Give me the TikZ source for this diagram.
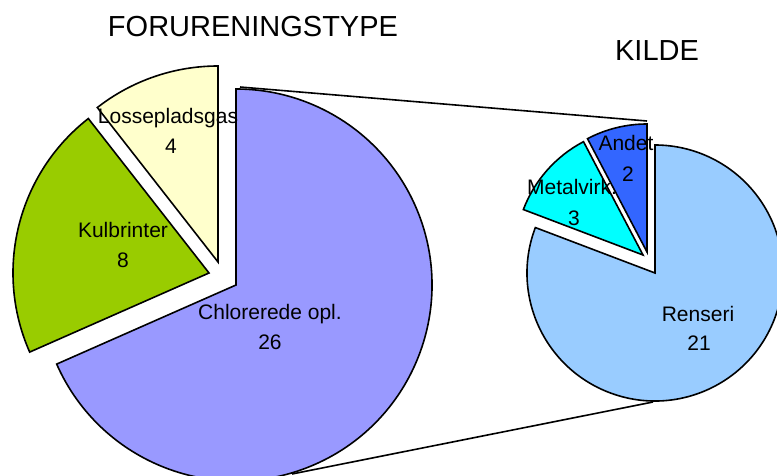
\documentclass[tikz,border=0pt]{standalone}
\usepackage{fontspec}
\setmainfont{Liberation Sans}
\definecolor{chl}{HTML}{9999FF}
\definecolor{kul}{HTML}{99CC00}
\definecolor{los}{HTML}{FFFFCC}
\definecolor{ren}{HTML}{99CCFF}
\definecolor{met}{HTML}{00FFFF}
\definecolor{and}{HTML}{3366FF}
\begin{document}
\begin{tikzpicture}[x=1pt,y=1pt,
  wedge/.style={draw=black,line width=1.6pt,line join=miter},
  lbl/.style={anchor=base,inner sep=0pt,font=\fontsize{21}{24}\selectfont},
  ttl/.style={anchor=base,inner sep=0pt,font=\fontsize{29}{32}\selectfont},
  conn/.style={draw=black,line width=1.6pt}]
\useasboundingbox (0,0) rectangle (777,475);
\clip (0,0) rectangle (777,475);
% left pie
\coordinate (cb) at (236,190);
\coordinate (cg) at (209,202);
\coordinate (cy) at (218,213);
\path[wedge,fill=chl] (cb) -- ++(-156.2:196) arc[start angle=-156.2,end angle=90,radius=196] -- cycle;
\path[wedge,fill=kul] (cg) -- ++(128:196) arc[start angle=128,end angle=203.8,radius=196] -- cycle;
\path[wedge,fill=los] (cy) -- ++(90:196) arc[start angle=90,end angle=128,radius=196] -- cycle;
% right pie
\coordinate (cr) at (655,202);
\coordinate (cm) at (643,220);
\coordinate (ca) at (647,223);
\path[wedge,fill=ren] (cr) -- ++(-200.8:128) arc[start angle=-200.8,end angle=90,radius=128] -- cycle;
\path[wedge,fill=met] (cm) -- ++(117.7:128) arc[start angle=117.7,end angle=159.2,radius=128] -- cycle;
\path[wedge,fill=and] (ca) -- ++(90:128) arc[start angle=90,end angle=117.7,radius=128] -- cycle;
% connectors
\coordinate (t1) at (240,388);
\coordinate (t2) at (647,354);
\coordinate (b1) at (292,1);
\coordinate (b2) at (653,73);
\draw[conn] (t1) -- (t2);
\draw[conn] (b1) -- (b2);
% titles
\node[ttl] (title1) at (253,438) {FORURENINGSTYPE};
\node[ttl] (title2) at (657,414) {KILDE};
% labels
\node[lbl] (l1) at (270,156) {Chlorerede opl.};
\node[lbl] (v1) at (270,126) {26};
\node[lbl] (l2) at (123,238) {Kulbrinter};
\node[lbl] (v2) at (123,208) {8};
\node[lbl] (l3) at (168,352) {Lossepladsgas};
\node[lbl] (v3) at (171,321) {4};
\node[lbl] (l4) at (698,154) {Renseri};
\node[lbl] (v4) at (699,125) {21};
\node[lbl] (l5) at (572,280) {Metalvirk.};
\node[lbl] (v5) at (574,250) {3};
\node[lbl] (l6) at (626,324) {Andet};
\node[lbl] (v6) at (628,294) {2};
\end{tikzpicture}
\end{document}
